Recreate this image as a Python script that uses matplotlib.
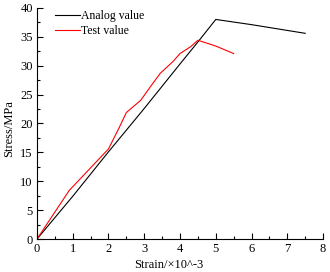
import matplotlib
matplotlib.use("Agg")
import matplotlib.pyplot as plt
from matplotlib.ticker import MultipleLocator

plt.rcParams["font.family"] = ["Liberation Serif", "DejaVu Serif"]

# simulated curve
analog_strain = [0, 1, 2, 3, 4, 4.5, 5, 6, 7.5]
analog_stress = [0, 7.4, 15.1, 22.6, 30.3, 34.1, 38, 37.1, 35.6]

# measured curve
test_strain = [0, 0.9, 2.0, 2.3, 2.5, 2.9, 3.2, 3.45, 3.8, 4.0, 4.3, 4.5, 5.0, 5.5]
test_stress = [0, 8.4, 15.6, 19.3, 21.9, 24.0, 26.6, 28.7, 30.7, 32.1, 33.3, 34.4, 33.4, 32.1]

fig = plt.figure(figsize=(3.3, 2.72), dpi=100)
ax = fig.add_axes([0.112, 0.121, 0.867, 0.85])

ax.plot(analog_strain, analog_stress, color="black", lw=0.8, label="Analog value")
ax.plot(test_strain, test_stress, color="red", lw=0.8, label="Test value")

ax.set_xlim(0, 8)
ax.set_ylim(0, 40)
ax.xaxis.set_major_locator(MultipleLocator(1))
ax.xaxis.set_minor_locator(MultipleLocator(0.5))
ax.yaxis.set_major_locator(MultipleLocator(5))
ax.yaxis.set_minor_locator(MultipleLocator(2.5))
ax.tick_params(which="both", direction="in", labelsize=9, width=0.8)
ax.tick_params(which="major", length=4)
ax.tick_params(which="minor", length=2)
ax.tick_params(axis="x", pad=3)
ax.tick_params(axis="y", pad=3)

for s in ["top", "right"]:
    ax.spines[s].set_visible(False)

ax.set_xlabel("Strain/×10^-3", fontsize=9)
ax.set_ylabel("Stress/MPa", fontsize=9)
ax.xaxis.set_label_coords(0.46, -0.085)
ax.yaxis.set_label_coords(-0.078, 0.478)

ax.legend(loc="upper left", bbox_to_anchor=(0.063, 0.99), frameon=False,
          borderpad=0, borderaxespad=0,
          fontsize=8.5, handlelength=2.1, handletextpad=0.1, labelspacing=0.25)

fig.savefig("out.png", dpi=100)
